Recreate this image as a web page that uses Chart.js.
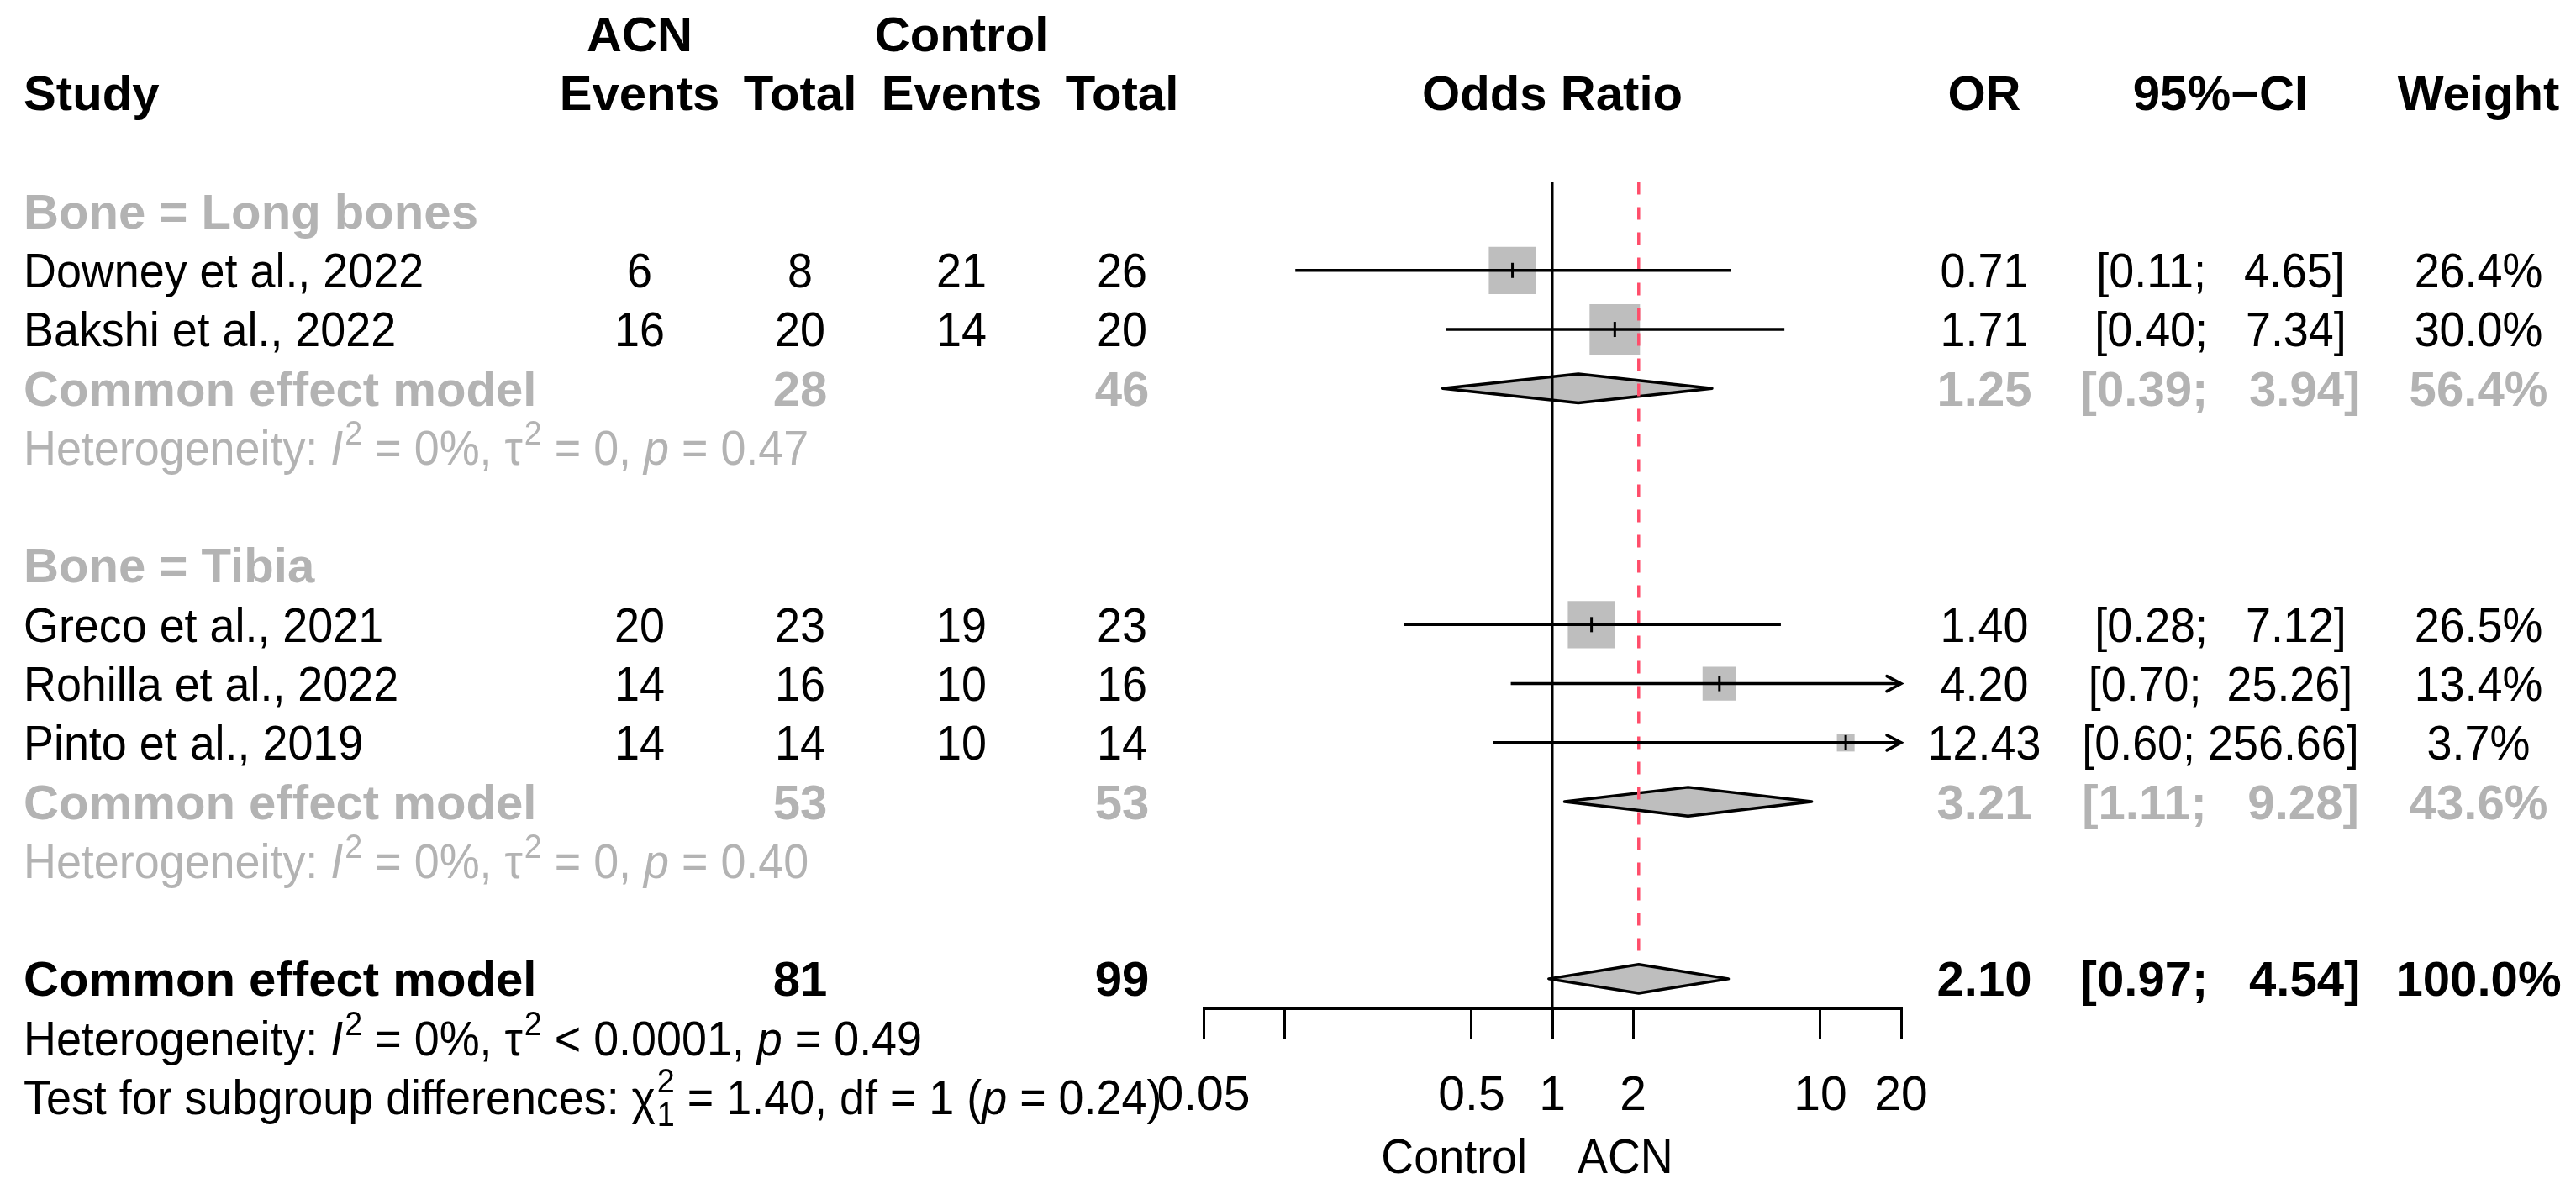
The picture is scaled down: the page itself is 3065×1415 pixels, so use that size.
<!DOCTYPE html>
<html>
<head>
<meta charset="utf-8">
<script src="https://cdn.jsdelivr.net/npm/chart.js@4.4.1/dist/chart.umd.min.js"></script>
<style>
  html, body { margin: 0; padding: 0; background: #fff; }
  canvas { display: block; }
</style>
</head>
<body>
<canvas id="forest" width="3065" height="1415" style="width:3065px;height:1415px"></canvas>
<script>
// Study level data
const studies = ['Downey et al., 2022', 'Bakshi et al., 2022', 'Greco et al., 2021', 'Rohilla et al., 2022', 'Pinto et al., 2019'];
const studyGroup = [0, 0, 1, 1, 1];
const acnEvents = [6, 16, 20, 14, 14];
const acnTotal = [8, 20, 23, 16, 14];
const ctrlEvents = [21, 14, 19, 10, 10];
const ctrlTotal = [26, 20, 23, 16, 14];
const oddsRatio = [0.71, 1.71, 1.40, 4.20, 12.43];
const ciLower = [0.11, 0.40, 0.28, 0.70, 0.60];
const ciUpper = [4.65, 7.34, 7.12, 25.26, 256.66];
const weight = [26.4, 30.0, 26.5, 13.4, 3.7];

// Subgroups (common effect model per bone)
const groups = ['Long bones', 'Tibia'];
const groupAcnTotal = [28, 53];
const groupCtrlTotal = [46, 53];
const groupOR = [1.25, 3.21];
const groupLower = [0.39, 1.11];
const groupUpper = [3.94, 9.28];
const groupWeight = [56.4, 43.6];
const groupI2 = ['0%', '0%'];
const groupTau2 = ['= 0', '= 0'];
const groupP = ['0.47', '0.40'];

// Overall common effect model
const overallAcnTotal = 81;
const overallCtrlTotal = 99;
const overallOR = 2.10;
const overallLower = 0.97;
const overallUpper = 4.54;
const overallWeight = 100.0;
const overallI2 = '0%';
const overallTau2 = '< 0.0001';
const overallP = '0.49';
const subgroupChi2 = '1.40';
const subgroupDf = '1';
const subgroupP = '0.24';

// Axis ticks
const tickValues = [0.05, 0.1, 0.5, 1, 2, 10, 20];
const tickLabels = ['0.05', '', '0.5', '1', '2', '10', '20'];
const xMin = 0.05, xMax = 20;

// layout helpers (pixel columns of the text table)
const FONT = '"Liberation Sans", Arial, Helvetica, sans-serif';
const FS = 57;
const SX = 0.945;     // regular text is a bit narrower than Liberation Sans
const SX_BOLD = 1.02; // bold text a touch wider
const GREY = '#b3b3b3';
const BOX = '#bebebe';
const RED = '#ff4d6a';
const col = { study: 28, acnEv: 761, acnTot: 952, ctlEv: 1144, ctlTot: 1335, or: 2361, ci: 2642, w: 2949 };

// assign table rows
const studyRow = [];
const groupHeadRow = [], groupRow = [], groupHetRow = [];
let r = 3;
groups.forEach((g, gi) => {
  groupHeadRow.push(r++);
  studies.forEach((s, i) => { if (studyGroup[i] === gi) studyRow[i] = r++; });
  groupRow.push(r++);
  groupHetRow.push(r++);
  r++;
});
const overallRow = r;            // 16
const topRow = 2.5;
const axisRow = overallRow + 0.5;

function fmtCI(lo, hi) {
  return '[' + lo.toFixed(2) + '; ' + hi.toFixed(2).padStart(6, ' ') + ']';
}

// square side scales with sqrt(weight); biggest study box is 60px
const maxW = Math.max(...weight);
const boxRadius = weight.map(w => 60 * Math.sqrt(w / maxW) / (2 * Math.SQRT1_2));

const datasets = [];

// estimate tick marks (on top)
datasets.push({
  data: oddsRatio.map((v, i) => ({ x: v, y: studyRow[i] })),
  pointStyle: 'line', rotation: 90, pointRadius: 9, borderColor: '#000', borderWidth: 3,
  showLine: false
});

// confidence intervals
studies.forEach((s, i) => {
  datasets.push({
    data: [{ x: ciLower[i], y: studyRow[i] }, { x: Math.min(ciUpper[i], xMax), y: studyRow[i] }],
    showLine: true, borderColor: '#000', borderWidth: 3.5, pointRadius: 0, borderCapStyle: 'butt'
  });
});

// reference line at OR = 1
datasets.push({
  data: [{ x: 1, y: topRow }, { x: 1, y: axisRow }],
  showLine: true, borderColor: '#000', borderWidth: 3, pointRadius: 0
});

// common effect line
datasets.push({
  data: [{ x: overallOR, y: topRow }, { x: overallOR, y: overallRow - 0.4 }],
  showLine: true, borderColor: RED, borderWidth: 3.5, borderDash: [15, 15], pointRadius: 0
});

// weight boxes
datasets.push({
  data: oddsRatio.map((v, i) => ({ x: v, y: studyRow[i] })),
  pointStyle: 'rect', pointRadius: boxRadius, backgroundColor: BOX, borderWidth: 0,
  showLine: false
});

function font(bold, italic, size) {
  return (italic ? 'italic ' : '') + (bold ? 'bold ' : '') + (size || FS) + 'px ' + FONT;
}

// draw text squeezed horizontally, anchored at x
function fillNarrow(ctx, t, x, y, sx) {
  ctx.save();
  ctx.translate(x, y);
  ctx.scale(sx || SX, 1);
  ctx.fillText(t, 0, 0);
  ctx.restore();
}

const diamondPlugin = {
  id: 'diamonds',
  beforeDatasetsDraw(chart) {
    const ctx = chart.ctx, xs = chart.scales.x, ys = chart.scales.y;
    const list = groups.map((g, i) => [groupLower[i], groupOR[i], groupUpper[i], groupRow[i]]);
    list.push([overallLower, overallOR, overallUpper, overallRow]);
    ctx.save();
    list.forEach(([lo, est, hi, row]) => {
      const y = ys.getPixelForValue(row);
      const h = ys.getPixelForValue(row + 0.245) - y;
      ctx.beginPath();
      ctx.moveTo(xs.getPixelForValue(lo), y);
      ctx.lineTo(xs.getPixelForValue(est), y - h);
      ctx.lineTo(xs.getPixelForValue(hi), y);
      ctx.lineTo(xs.getPixelForValue(est), y + h);
      ctx.closePath();
      ctx.fillStyle = BOX;
      ctx.fill();
      ctx.lineWidth = 3.5;
      ctx.lineJoin = 'round';
      ctx.strokeStyle = '#000';
      ctx.stroke();
    });
    ctx.restore();
  }
};

const arrowPlugin = {
  id: 'arrows',
  afterDatasetsDraw(chart) {
    const ctx = chart.ctx, xs = chart.scales.x, ys = chart.scales.y;
    ctx.save();
    ctx.strokeStyle = '#000';
    ctx.lineWidth = 3.5;
    ctx.lineCap = 'round';
    studies.forEach((s, i) => {
      if (ciUpper[i] <= xMax) return;
      const x = xs.getPixelForValue(xMax), y = ys.getPixelForValue(studyRow[i]);
      ctx.beginPath();
      ctx.moveTo(x - 17, y - 9);
      ctx.lineTo(x, y);
      ctx.lineTo(x - 17, y + 9);
      ctx.stroke();
    });
    ctx.restore();
  }
};

// text pieces: [text, italic, script, text2]; script: 'sup' | 'supsub'
function drawRich(ctx, parts, x, y, color) {
  ctx.fillStyle = color;
  ctx.textAlign = 'left';
  let cx = x;
  parts.forEach(p => {
    const [t, italic, script, t2] = p;
    if (!script) {
      ctx.font = font(false, italic);
      fillNarrow(ctx, t, cx, y);
      cx += ctx.measureText(t).width * SX;
    } else if (script === 'sup') {
      ctx.font = font(false, false, 40);
      fillNarrow(ctx, t, cx + 2, y - 24);
      cx += ctx.measureText(t).width * SX + 2;
    } else {
      ctx.font = font(false, false, 40);
      fillNarrow(ctx, t, cx + 2, y - 26);
      fillNarrow(ctx, t2, cx + 2, y + 14);
      cx += Math.max(ctx.measureText(t).width, ctx.measureText(t2).width) * SX + 2;
    }
  });
}

const textPlugin = {
  id: 'table',
  afterDraw(chart) {
    const ctx = chart.ctx, ys = chart.scales.y, xs = chart.scales.x;
    const base = row => ys.getPixelForValue(row) + 0.358 * FS;
    const put = (t, x, row, align, bold, color) => {
      ctx.font = font(bold, false);
      ctx.fillStyle = color || '#000';
      ctx.textAlign = align;
      fillNarrow(ctx, t, x, base(row), bold ? SX_BOLD : SX);
    };
    ctx.save();
    ctx.textBaseline = 'alphabetic';

    // headers
    put('ACN', col.acnEv, 0, 'center', true);
    put('Control', col.ctlEv, 0, 'center', true);
    put('Study', col.study, 1, 'left', true);
    put('Events', col.acnEv, 1, 'center', true);
    put('Total', col.acnTot, 1, 'center', true);
    put('Events', col.ctlEv, 1, 'center', true);
    put('Total', col.ctlTot, 1, 'center', true);
    put('Odds Ratio', (chart.chartArea.left + chart.chartArea.right) / 2, 1, 'center', true);
    put('OR', col.or, 1, 'center', true);
    put('95%\u2212CI', col.ci, 1, 'center', true);
    put('Weight', col.w, 1, 'center', true);

    // studies
    studies.forEach((s, i) => {
      const row = studyRow[i];
      put(s, col.study, row, 'left', false);
      put(String(acnEvents[i]), col.acnEv, row, 'center', false);
      put(String(acnTotal[i]), col.acnTot, row, 'center', false);
      put(String(ctrlEvents[i]), col.ctlEv, row, 'center', false);
      put(String(ctrlTotal[i]), col.ctlTot, row, 'center', false);
      put(oddsRatio[i].toFixed(2), col.or, row, 'center', false);
      put(fmtCI(ciLower[i], ciUpper[i]), col.ci, row, 'center', false);
      put(weight[i].toFixed(1) + '%', col.w, row, 'center', false);
    });

    // subgroups
    groups.forEach((g, i) => {
      put('Bone = ' + g, col.study, groupHeadRow[i], 'left', true, GREY);
      put('Common effect model', col.study, groupRow[i], 'left', true, GREY);
      put(String(groupAcnTotal[i]), col.acnTot, groupRow[i], 'center', true, GREY);
      put(String(groupCtrlTotal[i]), col.ctlTot, groupRow[i], 'center', true, GREY);
      put(groupOR[i].toFixed(2), col.or, groupRow[i], 'center', true, GREY);
      put(fmtCI(groupLower[i], groupUpper[i]), col.ci, groupRow[i], 'center', true, GREY);
      put(groupWeight[i].toFixed(1) + '%', col.w, groupRow[i], 'center', true, GREY);
      drawRich(ctx, [['Heterogeneity: '], ['I', true], ['2', false, 'sup'], [' = ' + groupI2[i] + ', \u03c4'],
        ['2', false, 'sup'], [' ' + groupTau2[i] + ', '], ['p', true], [' = ' + groupP[i]]],
        col.study, base(groupHetRow[i]), GREY);
    });

    // overall
    put('Common effect model', col.study, overallRow, 'left', true);
    put(String(overallAcnTotal), col.acnTot, overallRow, 'center', true);
    put(String(overallCtrlTotal), col.ctlTot, overallRow, 'center', true);
    put(overallOR.toFixed(2), col.or, overallRow, 'center', true);
    put(fmtCI(overallLower, overallUpper), col.ci, overallRow, 'center', true);
    put(overallWeight.toFixed(1) + '%', col.w, overallRow, 'center', true);
    drawRich(ctx, [['Heterogeneity: '], ['I', true], ['2', false, 'sup'], [' = ' + overallI2 + ', \u03c4'],
      ['2', false, 'sup'], [' ' + overallTau2 + ', '], ['p', true], [' = ' + overallP]],
      col.study, base(overallRow + 1), '#000');
    drawRich(ctx, [['Test for subgroup differences: \u03c7'], ['2', false, 'supsub', subgroupDf],
      [' = ' + subgroupChi2 + ', df = ' + subgroupDf + ' ('], ['p', true], [' = ' + subgroupP + ')']],
      col.study, base(overallRow + 2), '#000');

    // direction labels
    const x1 = xs.getPixelForValue(1);
    put('Control', x1 - 30, overallRow + 3, 'right', false);
    put('ACN', x1 + 30, overallRow + 3, 'left', false);
    ctx.restore();
  }
};

new Chart(document.getElementById('forest'), {
  type: 'scatter',
  data: { datasets },
  options: {
    responsive: false,
    animation: false,
    devicePixelRatio: 1,
    layout: { autoPadding: false, padding: { left: 1432, right: 803, top: 0, bottom: 0 } },
    plugins: { legend: { display: false }, tooltip: { enabled: false } },
    scales: {
      x: {
        type: 'logarithmic',
        min: xMin,
        max: xMax,
        position: 'bottom',
        afterFit: s => { s.height = 215; },
        afterBuildTicks: s => { s.ticks = tickValues.map(v => ({ value: v })); },
        ticks: {
          callback: (v, i) => tickLabels[i],
          font: { family: FONT, size: FS, lineHeight: 1.2 },
          color: '#000',
          padding: 34,
          maxRotation: 0,
          autoSkip: false
        },
        grid: { drawOnChartArea: false, drawTicks: true, tickLength: 37, color: '#000', lineWidth: 3 },
        border: { display: true, color: '#000', width: 3 }
      },
      y: { type: 'linear', min: -0.58, max: axisRow, reverse: true, display: false }
    }
  },
  plugins: [diamondPlugin, arrowPlugin, textPlugin]
});
</script>
</body>
</html>
